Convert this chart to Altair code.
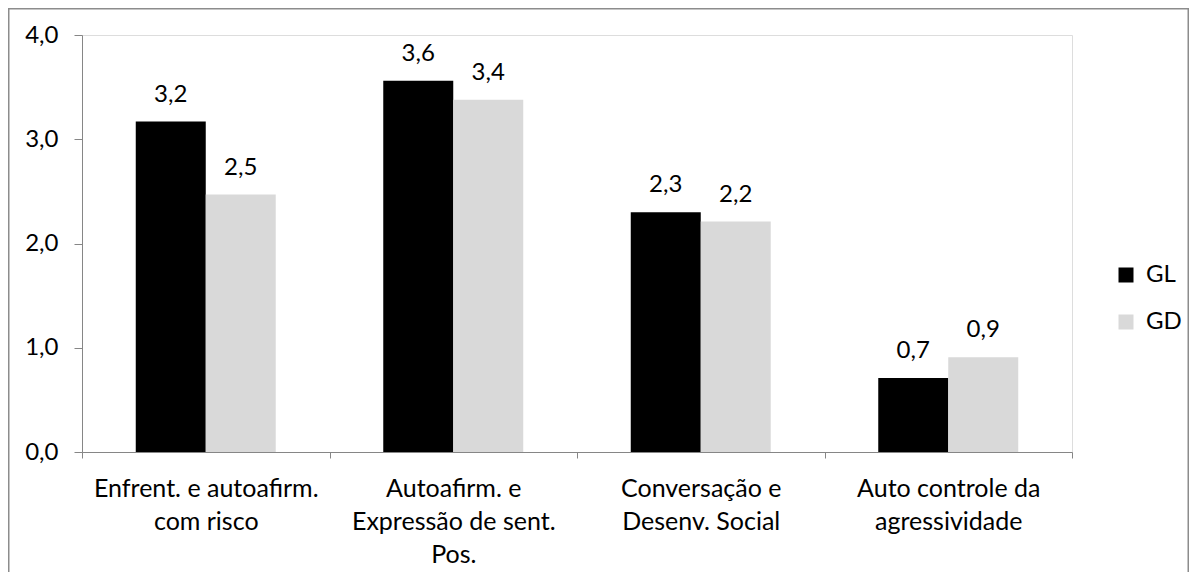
import altair as alt
import pandas as pd

categories = [
    "Enfrent. e autoafirm.|com risco",
    "Autoafirm. e|Expressão de sent.|Pos.",
    "Conversação e|Desenv. Social",
    "Auto controle da|agressividade",
]
groups = ["GL", "GD"]
gl_values = [3.17, 3.56, 2.30, 0.71]
gd_values = [2.47, 3.38, 2.21, 0.91]
colors = ["#000000", "#d9d9d9"]
y_ticks = [0, 1, 2, 3, 4]

rows = []
for c, a, b in zip(categories, gl_values, gd_values):
    rows.append({"cat": c, "grp": "GL", "val": a})
    rows.append({"cat": c, "grp": "GD", "val": b})
df = pd.DataFrame(rows)

FONT = "Lato"
FS = 24
AXIS_GRAY = "#868686"

x_enc = alt.X(
    "cat:N",
    sort=categories,
    scale=alt.Scale(paddingInner=0, paddingOuter=0),
    axis=alt.Axis(
        title=None,
        labelAngle=0,
        labelExpr="split(datum.label, '|')",
        labelLimit=0,
        tickBand="extent",
        tickSize=6,
        labelPadding=18,
        labelLineHeight=33,
        labelFont=FONT,
        labelFontSize=25,
        labelColor="black",
        domainColor=AXIS_GRAY,
        tickColor=AXIS_GRAY,
        grid=False,
    ),
)
xoff_enc = alt.XOffset("grp:N", sort=groups, scale=alt.Scale(paddingOuter=0.768, paddingInner=0))
y_enc = alt.Y(
    "val:Q",
    scale=alt.Scale(domain=[0, 4], nice=False),
    axis=alt.Axis(
        title=None,
        values=y_ticks,
        labelExpr="replace(format(datum.value, '.1f'), '.', ',')",
        tickSize=8,
        labelPadding=16,
        labelFont=FONT,
        labelFontSize=FS,
        labelColor="black",
        domainColor=AXIS_GRAY,
        tickColor=AXIS_GRAY,
        grid=False,
    ),
)

bars = alt.Chart(df).mark_bar().encode(
    x=x_enc,
    xOffset=xoff_enc,
    y=y_enc,
    color=alt.Color(
        "grp:N",
        sort=groups,
        scale=alt.Scale(domain=groups, range=colors),
        legend=alt.Legend(
            title=None,
            orient="none",
            legendX=1032,
            legendY=228,
            symbolType="square",
            symbolSize=225,
            symbolStrokeWidth=0,
            labelFont=FONT,
            labelFontSize=FS,
            labelColor="black",
            labelOffset=8,
            rowPadding=23,
            padding=0,
        ),
    ),
)

labels = alt.Chart(df).transform_calculate(
    lbl="replace(format(datum.val, '.1f'), '.', ',')"
).mark_text(baseline="alphabetic", dy=-20, font=FONT, fontSize=FS, color="black").encode(
    x=alt.X("cat:N", sort=categories),
    xOffset=alt.XOffset("grp:N", sort=groups),
    y="val:Q",
    text="lbl:N",
)

border = alt.Chart(pd.DataFrame({"a": [0]})).mark_rect(
    fill="transparent", stroke="#8c8c8c", strokeWidth=1.5, clip=False
).encode(
    x=alt.value(-73.25), x2=alt.value(1106.25), y=alt.value(-26.25), y2=alt.value(700)
)

chart = alt.layer(border, bars, labels).properties(
    width=990,
    height=417,
    autosize=alt.AutoSizeParams(type="none"),
    padding={"left": 74, "top": 27, "right": 117, "bottom": 120},
).configure_view(stroke=None).configure(background="white")

chart.save("out.html", embed_options={"renderer": "svg", "actions": False})
